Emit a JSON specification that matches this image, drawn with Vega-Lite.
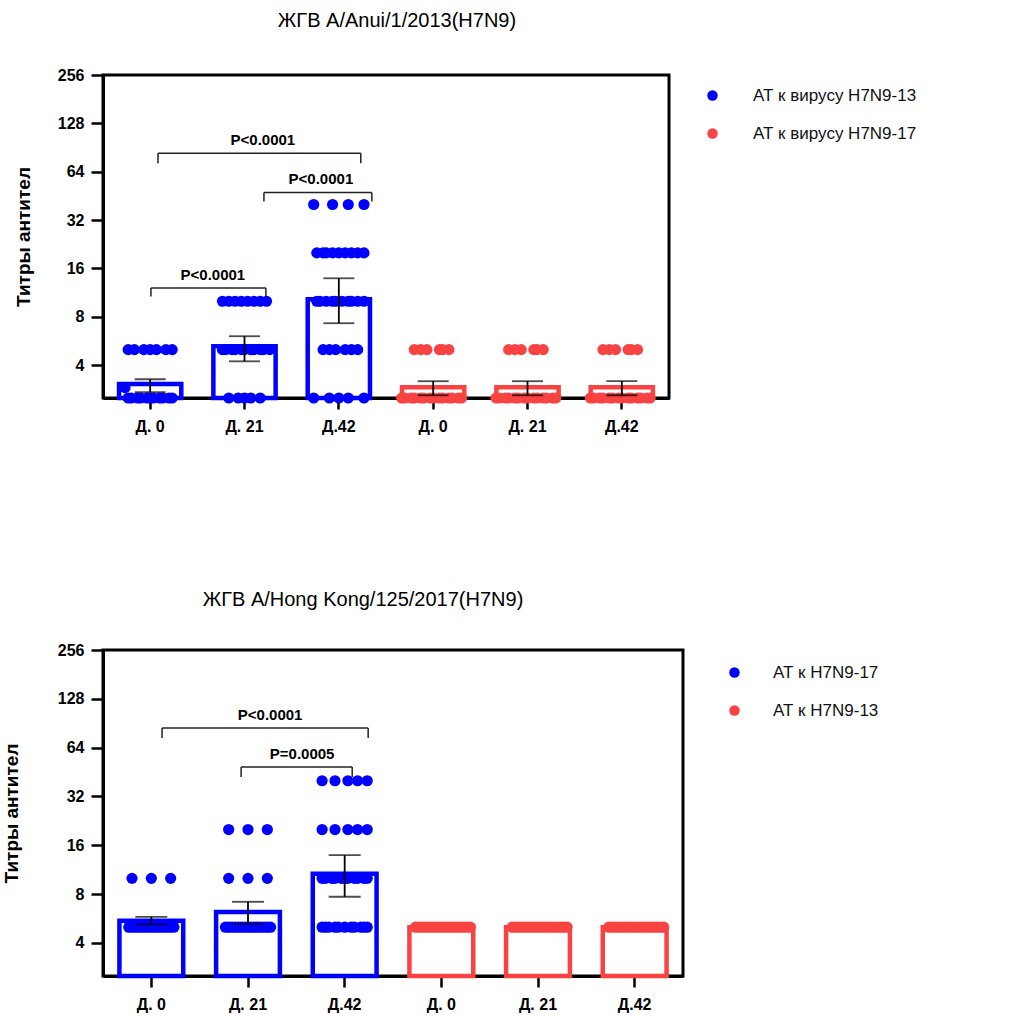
{
  "$schema": "https://vega.github.io/schema/vega-lite/v6.json",
  "padding": {"left": 0, "top": 9, "right": 0, "bottom": 0},
  "background": "white",
  "config": {
    "font": "Liberation Sans",
    "view": {"stroke": "black", "strokeWidth": 3},
    "axis": {"grid": false, "domainColor": "black", "domainWidth": 3, "tickColor": "black", "tickWidth": 2.5, "labelColor": "black", "labelFontWeight": "bold", "labelFontSize": 16, "titleColor": "black", "titleFontWeight": "bold", "titleFontSize": 19},
    "title": {"fontSize": 20, "fontWeight": "normal", "color": "black", "anchor": "middle"}
  },
  "resolve": {"scale": {"color": "independent"}, "legend": {"color": "independent"}},
  "spacing": 152,
  "datasets": {
    "bars_top": [
      {"g": "1|Д. 0", "series": "АТ к вирусу H7N9-13", "mean": 3.05},
      {"g": "2|Д. 21", "series": "АТ к вирусу H7N9-13", "mean": 5.24},
      {"g": "3|Д.42", "series": "АТ к вирусу H7N9-13", "mean": 10.3},
      {"g": "4|Д. 0", "series": "АТ к вирусу H7N9-17", "mean": 2.92},
      {"g": "5|Д. 21", "series": "АТ к вирусу H7N9-17", "mean": 2.92},
      {"g": "6|Д.42", "series": "АТ к вирусу H7N9-17", "mean": 2.92}
    ],
    "err_top": [
      {"g": "1|Д. 0", "lo": 2.72, "hi": 3.27},
      {"g": "2|Д. 21", "lo": 4.23, "hi": 6.06},
      {"g": "3|Д.42", "lo": 7.3, "hi": 13.9},
      {"g": "4|Д. 0", "lo": 2.6, "hi": 3.18},
      {"g": "5|Д. 21", "lo": 2.6, "hi": 3.18},
      {"g": "6|Д.42", "lo": 2.6, "hi": 3.18}
    ],
    "brk_top": [
      {"xa": 0.583, "xb": 2.733, "ytop": 83.4, "ydrop": 72.3, "xt": 1.695, "label": "P<0.0001"},
      {"xa": 1.706, "xb": 2.85, "ytop": 47.6, "ydrop": 41.8, "xt": 2.31, "label": "P<0.0001"},
      {"xa": 0.508, "xb": 1.727, "ytop": 12.1, "ydrop": 10.7, "xt": 1.165, "label": "P<0.0001"}
    ],
    "pts_top": [
      {"g": "1|Д. 0", "series": "АТ к вирусу H7N9-13", "titer": 5, "slot": 8},
      {"g": "1|Д. 0", "series": "АТ к вирусу H7N9-13", "titer": 5, "slot": 10},
      {"g": "1|Д. 0", "series": "АТ к вирусу H7N9-13", "titer": 5, "slot": 13},
      {"g": "1|Д. 0", "series": "АТ к вирусу H7N9-13", "titer": 5, "slot": 15},
      {"g": "1|Д. 0", "series": "АТ к вирусу H7N9-13", "titer": 5, "slot": 17},
      {"g": "1|Д. 0", "series": "АТ к вирусу H7N9-13", "titer": 5, "slot": 20},
      {"g": "1|Д. 0", "series": "АТ к вирусу H7N9-13", "titer": 5, "slot": 22},
      {"g": "1|Д. 0", "series": "АТ к вирусу H7N9-13", "titer": 2.5, "slot": 8},
      {"g": "1|Д. 0", "series": "АТ к вирусу H7N9-13", "titer": 2.5, "slot": 9},
      {"g": "1|Д. 0", "series": "АТ к вирусу H7N9-13", "titer": 2.5, "slot": 11},
      {"g": "1|Д. 0", "series": "АТ к вирусу H7N9-13", "titer": 2.5, "slot": 12},
      {"g": "1|Д. 0", "series": "АТ к вирусу H7N9-13", "titer": 2.5, "slot": 14},
      {"g": "1|Д. 0", "series": "АТ к вирусу H7N9-13", "titer": 2.5, "slot": 15},
      {"g": "1|Д. 0", "series": "АТ к вирусу H7N9-13", "titer": 2.5, "slot": 16},
      {"g": "1|Д. 0", "series": "АТ к вирусу H7N9-13", "titer": 2.5, "slot": 18},
      {"g": "1|Д. 0", "series": "АТ к вирусу H7N9-13", "titer": 2.5, "slot": 19},
      {"g": "1|Д. 0", "series": "АТ к вирусу H7N9-13", "titer": 2.5, "slot": 21},
      {"g": "1|Д. 0", "series": "АТ к вирусу H7N9-13", "titer": 2.5, "slot": 22},
      {"g": "1|Д. 0", "series": "АТ к вирусу H7N9-13", "titer": 2.9, "slot": 7},
      {"g": "2|Д. 21", "series": "АТ к вирусу H7N9-13", "titer": 10, "slot": 8},
      {"g": "2|Д. 21", "series": "АТ к вирусу H7N9-13", "titer": 10, "slot": 10},
      {"g": "2|Д. 21", "series": "АТ к вирусу H7N9-13", "titer": 10, "slot": 12},
      {"g": "2|Д. 21", "series": "АТ к вирусу H7N9-13", "titer": 10, "slot": 14},
      {"g": "2|Д. 21", "series": "АТ к вирусу H7N9-13", "titer": 10, "slot": 16},
      {"g": "2|Д. 21", "series": "АТ к вирусу H7N9-13", "titer": 10, "slot": 18},
      {"g": "2|Д. 21", "series": "АТ к вирусу H7N9-13", "titer": 10, "slot": 20},
      {"g": "2|Д. 21", "series": "АТ к вирусу H7N9-13", "titer": 10, "slot": 22},
      {"g": "2|Д. 21", "series": "АТ к вирусу H7N9-13", "titer": 5, "slot": 8},
      {"g": "2|Д. 21", "series": "АТ к вирусу H7N9-13", "titer": 5, "slot": 9},
      {"g": "2|Д. 21", "series": "АТ к вирусу H7N9-13", "titer": 5, "slot": 11},
      {"g": "2|Д. 21", "series": "АТ к вирусу H7N9-13", "titer": 5, "slot": 12},
      {"g": "2|Д. 21", "series": "АТ к вирусу H7N9-13", "titer": 5, "slot": 14},
      {"g": "2|Д. 21", "series": "АТ к вирусу H7N9-13", "titer": 5, "slot": 15},
      {"g": "2|Д. 21", "series": "АТ к вирусу H7N9-13", "titer": 5, "slot": 17},
      {"g": "2|Д. 21", "series": "АТ к вирусу H7N9-13", "titer": 5, "slot": 18},
      {"g": "2|Д. 21", "series": "АТ к вирусу H7N9-13", "titer": 5, "slot": 20},
      {"g": "2|Д. 21", "series": "АТ к вирусу H7N9-13", "titer": 5, "slot": 21},
      {"g": "2|Д. 21", "series": "АТ к вирусу H7N9-13", "titer": 5, "slot": 23},
      {"g": "2|Д. 21", "series": "АТ к вирусу H7N9-13", "titer": 2.5, "slot": 10},
      {"g": "2|Д. 21", "series": "АТ к вирусу H7N9-13", "titer": 2.5, "slot": 13},
      {"g": "2|Д. 21", "series": "АТ к вирусу H7N9-13", "titer": 2.5, "slot": 15},
      {"g": "2|Д. 21", "series": "АТ к вирусу H7N9-13", "titer": 2.5, "slot": 17},
      {"g": "2|Д. 21", "series": "АТ к вирусу H7N9-13", "titer": 2.5, "slot": 20},
      {"g": "3|Д.42", "series": "АТ к вирусу H7N9-13", "titer": 40, "slot": 7},
      {"g": "3|Д.42", "series": "АТ к вирусу H7N9-13", "titer": 40, "slot": 13},
      {"g": "3|Д.42", "series": "АТ к вирусу H7N9-13", "titer": 40, "slot": 18},
      {"g": "3|Д.42", "series": "АТ к вирусу H7N9-13", "titer": 40, "slot": 23},
      {"g": "3|Д.42", "series": "АТ к вирусу H7N9-13", "titer": 20, "slot": 8},
      {"g": "3|Д.42", "series": "АТ к вирусу H7N9-13", "titer": 20, "slot": 10},
      {"g": "3|Д.42", "series": "АТ к вирусу H7N9-13", "titer": 20, "slot": 11},
      {"g": "3|Д.42", "series": "АТ к вирусу H7N9-13", "titer": 20, "slot": 13},
      {"g": "3|Д.42", "series": "АТ к вирусу H7N9-13", "titer": 20, "slot": 15},
      {"g": "3|Д.42", "series": "АТ к вирусу H7N9-13", "titer": 20, "slot": 17},
      {"g": "3|Д.42", "series": "АТ к вирусу H7N9-13", "titer": 20, "slot": 19},
      {"g": "3|Д.42", "series": "АТ к вирусу H7N9-13", "titer": 20, "slot": 21},
      {"g": "3|Д.42", "series": "АТ к вирусу H7N9-13", "titer": 20, "slot": 23},
      {"g": "3|Д.42", "series": "АТ к вирусу H7N9-13", "titer": 10, "slot": 8},
      {"g": "3|Д.42", "series": "АТ к вирусу H7N9-13", "titer": 10, "slot": 9},
      {"g": "3|Д.42", "series": "АТ к вирусу H7N9-13", "titer": 10, "slot": 11},
      {"g": "3|Д.42", "series": "АТ к вирусу H7N9-13", "titer": 10, "slot": 13},
      {"g": "3|Д.42", "series": "АТ к вирусу H7N9-13", "titer": 10, "slot": 14},
      {"g": "3|Д.42", "series": "АТ к вирусу H7N9-13", "titer": 10, "slot": 16},
      {"g": "3|Д.42", "series": "АТ к вирусу H7N9-13", "titer": 10, "slot": 18},
      {"g": "3|Д.42", "series": "АТ к вирусу H7N9-13", "titer": 10, "slot": 19},
      {"g": "3|Д.42", "series": "АТ к вирусу H7N9-13", "titer": 10, "slot": 21},
      {"g": "3|Д.42", "series": "АТ к вирусу H7N9-13", "titer": 10, "slot": 23},
      {"g": "3|Д.42", "series": "АТ к вирусу H7N9-13", "titer": 5, "slot": 10},
      {"g": "3|Д.42", "series": "АТ к вирусу H7N9-13", "titer": 5, "slot": 12},
      {"g": "3|Д.42", "series": "АТ к вирусу H7N9-13", "titer": 5, "slot": 14},
      {"g": "3|Д.42", "series": "АТ к вирусу H7N9-13", "titer": 5, "slot": 17},
      {"g": "3|Д.42", "series": "АТ к вирусу H7N9-13", "titer": 5, "slot": 19},
      {"g": "3|Д.42", "series": "АТ к вирусу H7N9-13", "titer": 5, "slot": 21},
      {"g": "3|Д.42", "series": "АТ к вирусу H7N9-13", "titer": 2.5, "slot": 7},
      {"g": "3|Д.42", "series": "АТ к вирусу H7N9-13", "titer": 2.5, "slot": 12},
      {"g": "3|Д.42", "series": "АТ к вирусу H7N9-13", "titer": 2.5, "slot": 15},
      {"g": "3|Д.42", "series": "АТ к вирусу H7N9-13", "titer": 2.5, "slot": 18},
      {"g": "3|Д.42", "series": "АТ к вирусу H7N9-13", "titer": 2.5, "slot": 23},
      {"g": "4|Д. 0", "series": "АТ к вирусу H7N9-17", "titer": 5, "slot": 9},
      {"g": "4|Д. 0", "series": "АТ к вирусу H7N9-17", "titer": 5, "slot": 11},
      {"g": "4|Д. 0", "series": "АТ к вирусу H7N9-17", "titer": 5, "slot": 13},
      {"g": "4|Д. 0", "series": "АТ к вирусу H7N9-17", "titer": 5, "slot": 17},
      {"g": "4|Д. 0", "series": "АТ к вирусу H7N9-17", "titer": 5, "slot": 18},
      {"g": "4|Д. 0", "series": "АТ к вирусу H7N9-17", "titer": 5, "slot": 20},
      {"g": "4|Д. 0", "series": "АТ к вирусу H7N9-17", "titer": 2.5, "slot": 5},
      {"g": "4|Д. 0", "series": "АТ к вирусу H7N9-17", "titer": 2.5, "slot": 6},
      {"g": "4|Д. 0", "series": "АТ к вирусу H7N9-17", "titer": 2.5, "slot": 8},
      {"g": "4|Д. 0", "series": "АТ к вирусу H7N9-17", "titer": 2.5, "slot": 9},
      {"g": "4|Д. 0", "series": "АТ к вирусу H7N9-17", "titer": 2.5, "slot": 11},
      {"g": "4|Д. 0", "series": "АТ к вирусу H7N9-17", "titer": 2.5, "slot": 12},
      {"g": "4|Д. 0", "series": "АТ к вирусу H7N9-17", "titer": 2.5, "slot": 14},
      {"g": "4|Д. 0", "series": "АТ к вирусу H7N9-17", "titer": 2.5, "slot": 15},
      {"g": "4|Д. 0", "series": "АТ к вирусу H7N9-17", "titer": 2.5, "slot": 17},
      {"g": "4|Д. 0", "series": "АТ к вирусу H7N9-17", "titer": 2.5, "slot": 18},
      {"g": "4|Д. 0", "series": "АТ к вирусу H7N9-17", "titer": 2.5, "slot": 20},
      {"g": "4|Д. 0", "series": "АТ к вирусу H7N9-17", "titer": 2.5, "slot": 21},
      {"g": "4|Д. 0", "series": "АТ к вирусу H7N9-17", "titer": 2.5, "slot": 23},
      {"g": "4|Д. 0", "series": "АТ к вирусу H7N9-17", "titer": 2.5, "slot": 24},
      {"g": "5|Д. 21", "series": "АТ к вирусу H7N9-17", "titer": 5, "slot": 9},
      {"g": "5|Д. 21", "series": "АТ к вирусу H7N9-17", "titer": 5, "slot": 11},
      {"g": "5|Д. 21", "series": "АТ к вирусу H7N9-17", "titer": 5, "slot": 13},
      {"g": "5|Д. 21", "series": "АТ к вирусу H7N9-17", "titer": 5, "slot": 17},
      {"g": "5|Д. 21", "series": "АТ к вирусу H7N9-17", "titer": 5, "slot": 18},
      {"g": "5|Д. 21", "series": "АТ к вирусу H7N9-17", "titer": 5, "slot": 20},
      {"g": "5|Д. 21", "series": "АТ к вирусу H7N9-17", "titer": 2.5, "slot": 5},
      {"g": "5|Д. 21", "series": "АТ к вирусу H7N9-17", "titer": 2.5, "slot": 6},
      {"g": "5|Д. 21", "series": "АТ к вирусу H7N9-17", "titer": 2.5, "slot": 8},
      {"g": "5|Д. 21", "series": "АТ к вирусу H7N9-17", "titer": 2.5, "slot": 9},
      {"g": "5|Д. 21", "series": "АТ к вирусу H7N9-17", "titer": 2.5, "slot": 11},
      {"g": "5|Д. 21", "series": "АТ к вирусу H7N9-17", "titer": 2.5, "slot": 12},
      {"g": "5|Д. 21", "series": "АТ к вирусу H7N9-17", "titer": 2.5, "slot": 14},
      {"g": "5|Д. 21", "series": "АТ к вирусу H7N9-17", "titer": 2.5, "slot": 15},
      {"g": "5|Д. 21", "series": "АТ к вирусу H7N9-17", "titer": 2.5, "slot": 17},
      {"g": "5|Д. 21", "series": "АТ к вирусу H7N9-17", "titer": 2.5, "slot": 18},
      {"g": "5|Д. 21", "series": "АТ к вирусу H7N9-17", "titer": 2.5, "slot": 20},
      {"g": "5|Д. 21", "series": "АТ к вирусу H7N9-17", "titer": 2.5, "slot": 21},
      {"g": "5|Д. 21", "series": "АТ к вирусу H7N9-17", "titer": 2.5, "slot": 23},
      {"g": "5|Д. 21", "series": "АТ к вирусу H7N9-17", "titer": 2.5, "slot": 24},
      {"g": "6|Д.42", "series": "АТ к вирусу H7N9-17", "titer": 5, "slot": 9},
      {"g": "6|Д.42", "series": "АТ к вирусу H7N9-17", "titer": 5, "slot": 11},
      {"g": "6|Д.42", "series": "АТ к вирусу H7N9-17", "titer": 5, "slot": 13},
      {"g": "6|Д.42", "series": "АТ к вирусу H7N9-17", "titer": 5, "slot": 17},
      {"g": "6|Д.42", "series": "АТ к вирусу H7N9-17", "titer": 5, "slot": 18},
      {"g": "6|Д.42", "series": "АТ к вирусу H7N9-17", "titer": 5, "slot": 20},
      {"g": "6|Д.42", "series": "АТ к вирусу H7N9-17", "titer": 2.5, "slot": 5},
      {"g": "6|Д.42", "series": "АТ к вирусу H7N9-17", "titer": 2.5, "slot": 6},
      {"g": "6|Д.42", "series": "АТ к вирусу H7N9-17", "titer": 2.5, "slot": 8},
      {"g": "6|Д.42", "series": "АТ к вирусу H7N9-17", "titer": 2.5, "slot": 9},
      {"g": "6|Д.42", "series": "АТ к вирусу H7N9-17", "titer": 2.5, "slot": 11},
      {"g": "6|Д.42", "series": "АТ к вирусу H7N9-17", "titer": 2.5, "slot": 12},
      {"g": "6|Д.42", "series": "АТ к вирусу H7N9-17", "titer": 2.5, "slot": 14},
      {"g": "6|Д.42", "series": "АТ к вирусу H7N9-17", "titer": 2.5, "slot": 15},
      {"g": "6|Д.42", "series": "АТ к вирусу H7N9-17", "titer": 2.5, "slot": 17},
      {"g": "6|Д.42", "series": "АТ к вирусу H7N9-17", "titer": 2.5, "slot": 18},
      {"g": "6|Д.42", "series": "АТ к вирусу H7N9-17", "titer": 2.5, "slot": 20},
      {"g": "6|Д.42", "series": "АТ к вирусу H7N9-17", "titer": 2.5, "slot": 21},
      {"g": "6|Д.42", "series": "АТ к вирусу H7N9-17", "titer": 2.5, "slot": 23},
      {"g": "6|Д.42", "series": "АТ к вирусу H7N9-17", "titer": 2.5, "slot": 24}
    ],
    "bars_bot": [
      {"g": "1|Д. 0", "series": "АТ к H7N9-17", "mean": 5.47},
      {"g": "2|Д. 21", "series": "АТ к H7N9-17", "mean": 6.2},
      {"g": "3|Д.42", "series": "АТ к H7N9-17", "mean": 10.66},
      {"g": "4|Д. 0", "series": "АТ к H7N9-13", "mean": 5.0},
      {"g": "5|Д. 21", "series": "АТ к H7N9-13", "mean": 5.0},
      {"g": "6|Д.42", "series": "АТ к H7N9-13", "mean": 5.0}
    ],
    "err_bot": [
      {"g": "1|Д. 0", "lo": 5.2, "hi": 5.79},
      {"g": "2|Д. 21", "lo": 5.24, "hi": 7.17},
      {"g": "3|Д.42", "lo": 7.7, "hi": 13.9}
    ],
    "brk_bot": [
      {"xa": 0.611, "xb": 2.743, "ytop": 84.5, "ydrop": 73.3, "xt": 1.729, "label": "P<0.0001"},
      {"xa": 1.429, "xb": 2.578, "ytop": 48.6, "ydrop": 42.2, "xt": 2.06, "label": "P=0.0005"}
    ],
    "pts_bot": [
      {"g": "1|Д. 0", "series": "АТ к H7N9-17", "titer": 10, "slot": 9},
      {"g": "1|Д. 0", "series": "АТ к H7N9-17", "titer": 10, "slot": 15},
      {"g": "1|Д. 0", "series": "АТ к H7N9-17", "titer": 10, "slot": 21},
      {"g": "1|Д. 0", "series": "АТ к H7N9-17", "titer": 5, "slot": 8},
      {"g": "1|Д. 0", "series": "АТ к H7N9-17", "titer": 5, "slot": 9},
      {"g": "1|Д. 0", "series": "АТ к H7N9-17", "titer": 5, "slot": 10},
      {"g": "1|Д. 0", "series": "АТ к H7N9-17", "titer": 5, "slot": 11},
      {"g": "1|Д. 0", "series": "АТ к H7N9-17", "titer": 5, "slot": 12},
      {"g": "1|Д. 0", "series": "АТ к H7N9-17", "titer": 5, "slot": 13},
      {"g": "1|Д. 0", "series": "АТ к H7N9-17", "titer": 5, "slot": 14},
      {"g": "1|Д. 0", "series": "АТ к H7N9-17", "titer": 5, "slot": 15},
      {"g": "1|Д. 0", "series": "АТ к H7N9-17", "titer": 5, "slot": 16},
      {"g": "1|Д. 0", "series": "АТ к H7N9-17", "titer": 5, "slot": 17},
      {"g": "1|Д. 0", "series": "АТ к H7N9-17", "titer": 5, "slot": 18},
      {"g": "1|Д. 0", "series": "АТ к H7N9-17", "titer": 5, "slot": 19},
      {"g": "1|Д. 0", "series": "АТ к H7N9-17", "titer": 5, "slot": 20},
      {"g": "1|Д. 0", "series": "АТ к H7N9-17", "titer": 5, "slot": 21},
      {"g": "1|Д. 0", "series": "АТ к H7N9-17", "titer": 5, "slot": 22},
      {"g": "2|Д. 21", "series": "АТ к H7N9-17", "titer": 20, "slot": 9},
      {"g": "2|Д. 21", "series": "АТ к H7N9-17", "titer": 20, "slot": 15},
      {"g": "2|Д. 21", "series": "АТ к H7N9-17", "titer": 20, "slot": 21},
      {"g": "2|Д. 21", "series": "АТ к H7N9-17", "titer": 10, "slot": 9},
      {"g": "2|Д. 21", "series": "АТ к H7N9-17", "titer": 10, "slot": 15},
      {"g": "2|Д. 21", "series": "АТ к H7N9-17", "titer": 10, "slot": 21},
      {"g": "2|Д. 21", "series": "АТ к H7N9-17", "titer": 5, "slot": 8},
      {"g": "2|Д. 21", "series": "АТ к H7N9-17", "titer": 5, "slot": 9},
      {"g": "2|Д. 21", "series": "АТ к H7N9-17", "titer": 5, "slot": 10},
      {"g": "2|Д. 21", "series": "АТ к H7N9-17", "titer": 5, "slot": 11},
      {"g": "2|Д. 21", "series": "АТ к H7N9-17", "titer": 5, "slot": 12},
      {"g": "2|Д. 21", "series": "АТ к H7N9-17", "titer": 5, "slot": 13},
      {"g": "2|Д. 21", "series": "АТ к H7N9-17", "titer": 5, "slot": 14},
      {"g": "2|Д. 21", "series": "АТ к H7N9-17", "titer": 5, "slot": 15},
      {"g": "2|Д. 21", "series": "АТ к H7N9-17", "titer": 5, "slot": 16},
      {"g": "2|Д. 21", "series": "АТ к H7N9-17", "titer": 5, "slot": 17},
      {"g": "2|Д. 21", "series": "АТ к H7N9-17", "titer": 5, "slot": 18},
      {"g": "2|Д. 21", "series": "АТ к H7N9-17", "titer": 5, "slot": 19},
      {"g": "2|Д. 21", "series": "АТ к H7N9-17", "titer": 5, "slot": 20},
      {"g": "2|Д. 21", "series": "АТ к H7N9-17", "titer": 5, "slot": 21},
      {"g": "2|Д. 21", "series": "АТ к H7N9-17", "titer": 5, "slot": 22},
      {"g": "3|Д.42", "series": "АТ к H7N9-17", "titer": 40, "slot": 8},
      {"g": "3|Д.42", "series": "АТ к H7N9-17", "titer": 40, "slot": 12},
      {"g": "3|Д.42", "series": "АТ к H7N9-17", "titer": 40, "slot": 16},
      {"g": "3|Д.42", "series": "АТ к H7N9-17", "titer": 40, "slot": 19},
      {"g": "3|Д.42", "series": "АТ к H7N9-17", "titer": 40, "slot": 22},
      {"g": "3|Д.42", "series": "АТ к H7N9-17", "titer": 20, "slot": 8},
      {"g": "3|Д.42", "series": "АТ к H7N9-17", "titer": 20, "slot": 12},
      {"g": "3|Д.42", "series": "АТ к H7N9-17", "titer": 20, "slot": 16},
      {"g": "3|Д.42", "series": "АТ к H7N9-17", "titer": 20, "slot": 19},
      {"g": "3|Д.42", "series": "АТ к H7N9-17", "titer": 20, "slot": 22},
      {"g": "3|Д.42", "series": "АТ к H7N9-17", "titer": 10, "slot": 8},
      {"g": "3|Д.42", "series": "АТ к H7N9-17", "titer": 10, "slot": 9},
      {"g": "3|Д.42", "series": "АТ к H7N9-17", "titer": 10, "slot": 11},
      {"g": "3|Д.42", "series": "АТ к H7N9-17", "titer": 10, "slot": 12},
      {"g": "3|Д.42", "series": "АТ к H7N9-17", "titer": 10, "slot": 14},
      {"g": "3|Д.42", "series": "АТ к H7N9-17", "titer": 10, "slot": 15},
      {"g": "3|Д.42", "series": "АТ к H7N9-17", "titer": 10, "slot": 16},
      {"g": "3|Д.42", "series": "АТ к H7N9-17", "titer": 10, "slot": 18},
      {"g": "3|Д.42", "series": "АТ к H7N9-17", "titer": 10, "slot": 19},
      {"g": "3|Д.42", "series": "АТ к H7N9-17", "titer": 10, "slot": 21},
      {"g": "3|Д.42", "series": "АТ к H7N9-17", "titer": 10, "slot": 22},
      {"g": "3|Д.42", "series": "АТ к H7N9-17", "titer": 5, "slot": 8},
      {"g": "3|Д.42", "series": "АТ к H7N9-17", "titer": 5, "slot": 9},
      {"g": "3|Д.42", "series": "АТ к H7N9-17", "titer": 5, "slot": 10},
      {"g": "3|Д.42", "series": "АТ к H7N9-17", "titer": 5, "slot": 12},
      {"g": "3|Д.42", "series": "АТ к H7N9-17", "titer": 5, "slot": 13},
      {"g": "3|Д.42", "series": "АТ к H7N9-17", "titer": 5, "slot": 15},
      {"g": "3|Д.42", "series": "АТ к H7N9-17", "titer": 5, "slot": 17},
      {"g": "3|Д.42", "series": "АТ к H7N9-17", "titer": 5, "slot": 18},
      {"g": "3|Д.42", "series": "АТ к H7N9-17", "titer": 5, "slot": 20},
      {"g": "3|Д.42", "series": "АТ к H7N9-17", "titer": 5, "slot": 21},
      {"g": "3|Д.42", "series": "АТ к H7N9-17", "titer": 5, "slot": 22},
      {"g": "4|Д. 0", "series": "АТ к H7N9-13", "titer": 5, "slot": 7},
      {"g": "4|Д. 0", "series": "АТ к H7N9-13", "titer": 5, "slot": 8},
      {"g": "4|Д. 0", "series": "АТ к H7N9-13", "titer": 5, "slot": 9},
      {"g": "4|Д. 0", "series": "АТ к H7N9-13", "titer": 5, "slot": 10},
      {"g": "4|Д. 0", "series": "АТ к H7N9-13", "titer": 5, "slot": 11},
      {"g": "4|Д. 0", "series": "АТ к H7N9-13", "titer": 5, "slot": 12},
      {"g": "4|Д. 0", "series": "АТ к H7N9-13", "titer": 5, "slot": 13},
      {"g": "4|Д. 0", "series": "АТ к H7N9-13", "titer": 5, "slot": 14},
      {"g": "4|Д. 0", "series": "АТ к H7N9-13", "titer": 5, "slot": 15},
      {"g": "4|Д. 0", "series": "АТ к H7N9-13", "titer": 5, "slot": 16},
      {"g": "4|Д. 0", "series": "АТ к H7N9-13", "titer": 5, "slot": 17},
      {"g": "4|Д. 0", "series": "АТ к H7N9-13", "titer": 5, "slot": 18},
      {"g": "4|Д. 0", "series": "АТ к H7N9-13", "titer": 5, "slot": 19},
      {"g": "4|Д. 0", "series": "АТ к H7N9-13", "titer": 5, "slot": 20},
      {"g": "4|Д. 0", "series": "АТ к H7N9-13", "titer": 5, "slot": 21},
      {"g": "4|Д. 0", "series": "АТ к H7N9-13", "titer": 5, "slot": 22},
      {"g": "4|Д. 0", "series": "АТ к H7N9-13", "titer": 5, "slot": 23},
      {"g": "4|Д. 0", "series": "АТ к H7N9-13", "titer": 5, "slot": 24},
      {"g": "5|Д. 21", "series": "АТ к H7N9-13", "titer": 5, "slot": 7},
      {"g": "5|Д. 21", "series": "АТ к H7N9-13", "titer": 5, "slot": 8},
      {"g": "5|Д. 21", "series": "АТ к H7N9-13", "titer": 5, "slot": 9},
      {"g": "5|Д. 21", "series": "АТ к H7N9-13", "titer": 5, "slot": 10},
      {"g": "5|Д. 21", "series": "АТ к H7N9-13", "titer": 5, "slot": 11},
      {"g": "5|Д. 21", "series": "АТ к H7N9-13", "titer": 5, "slot": 12},
      {"g": "5|Д. 21", "series": "АТ к H7N9-13", "titer": 5, "slot": 13},
      {"g": "5|Д. 21", "series": "АТ к H7N9-13", "titer": 5, "slot": 14},
      {"g": "5|Д. 21", "series": "АТ к H7N9-13", "titer": 5, "slot": 15},
      {"g": "5|Д. 21", "series": "АТ к H7N9-13", "titer": 5, "slot": 16},
      {"g": "5|Д. 21", "series": "АТ к H7N9-13", "titer": 5, "slot": 17},
      {"g": "5|Д. 21", "series": "АТ к H7N9-13", "titer": 5, "slot": 18},
      {"g": "5|Д. 21", "series": "АТ к H7N9-13", "titer": 5, "slot": 19},
      {"g": "5|Д. 21", "series": "АТ к H7N9-13", "titer": 5, "slot": 20},
      {"g": "5|Д. 21", "series": "АТ к H7N9-13", "titer": 5, "slot": 21},
      {"g": "5|Д. 21", "series": "АТ к H7N9-13", "titer": 5, "slot": 22},
      {"g": "5|Д. 21", "series": "АТ к H7N9-13", "titer": 5, "slot": 23},
      {"g": "5|Д. 21", "series": "АТ к H7N9-13", "titer": 5, "slot": 24},
      {"g": "6|Д.42", "series": "АТ к H7N9-13", "titer": 5, "slot": 7},
      {"g": "6|Д.42", "series": "АТ к H7N9-13", "titer": 5, "slot": 8},
      {"g": "6|Д.42", "series": "АТ к H7N9-13", "titer": 5, "slot": 9},
      {"g": "6|Д.42", "series": "АТ к H7N9-13", "titer": 5, "slot": 10},
      {"g": "6|Д.42", "series": "АТ к H7N9-13", "titer": 5, "slot": 11},
      {"g": "6|Д.42", "series": "АТ к H7N9-13", "titer": 5, "slot": 12},
      {"g": "6|Д.42", "series": "АТ к H7N9-13", "titer": 5, "slot": 13},
      {"g": "6|Д.42", "series": "АТ к H7N9-13", "titer": 5, "slot": 14},
      {"g": "6|Д.42", "series": "АТ к H7N9-13", "titer": 5, "slot": 15},
      {"g": "6|Д.42", "series": "АТ к H7N9-13", "titer": 5, "slot": 16},
      {"g": "6|Д.42", "series": "АТ к H7N9-13", "titer": 5, "slot": 17},
      {"g": "6|Д.42", "series": "АТ к H7N9-13", "titer": 5, "slot": 18},
      {"g": "6|Д.42", "series": "АТ к H7N9-13", "titer": 5, "slot": 19},
      {"g": "6|Д.42", "series": "АТ к H7N9-13", "titer": 5, "slot": 20},
      {"g": "6|Д.42", "series": "АТ к H7N9-13", "titer": 5, "slot": 21},
      {"g": "6|Д.42", "series": "АТ к H7N9-13", "titer": 5, "slot": 22},
      {"g": "6|Д.42", "series": "АТ к H7N9-13", "titer": 5, "slot": 23},
      {"g": "6|Д.42", "series": "АТ к H7N9-13", "titer": 5, "slot": 24}
    ]
  },
  "vconcat": [
    {
      "width": 566,
      "height": 323,
      "title": {"text": "ЖГВ A/Anui/1/2013(H7N9)", "dx": 11, "offset": 36},
      "resolve": {"scale": {"x": "independent", "xOffset": "independent"}},
      "layer": [
        {
          "data": {"name": "bars_top"},
          "mark": {"type": "bar", "fill": "white", "strokeWidth": 4.5, "width": {"band": 0.66}},
          "encoding": {
            "x": {"field": "g", "type": "nominal", "sort": null,
              "scale": {"domain": ["1|Д. 0", "2|Д. 21", "3|Д.42", "4|Д. 0", "5|Д. 21", "6|Д.42"], "paddingInner": 0, "paddingOuter": 0},
              "axis": {"title": null, "labelAngle": 0, "labelExpr": "substring(datum.value, 2)", "tickSize": 11, "labelPadding": 9}},
            "y": {"field": "mean", "type": "quantitative",
              "scale": {"type": "log", "base": 2, "domain": [2.5, 256], "nice": false},
              "axis": {"title": "Титры антител", "values": [4, 8, 16, 32, 64, 128, 256], "format": "d", "tickSize": 12, "labelPadding": 7, "titlePadding": 24}},
            "y2": {"datum": 2.5},
            "stroke": {"condition": {"test": "datum.series === 'АТ к вирусу H7N9-17'", "value": "#F94343"}, "value": "#0000FF"}
          }
        },
        {
          "data": {"name": "pts_top"},
          "mark": {"type": "circle", "size": 125, "opacity": 1},
          "encoding": {
            "x": {"field": "g", "type": "nominal", "sort": null, "axis": null,
              "scale": {"domain": ["1|Д. 0", "2|Д. 21", "3|Д.42", "4|Д. 0", "5|Д. 21", "6|Д.42"], "paddingInner": 0, "paddingOuter": 0}},
            "xOffset": {"field": "slot", "type": "nominal", "scale": {"domain": [0,1,2,3,4,5,6,7,8,9,10,11,12,13,14,15,16,17,18,19,20,21,22,23,24,25,26,27,28,29,30], "paddingInner": 0, "paddingOuter": 0}},
            "y": {"field": "titer", "type": "quantitative"},
            "color": {"field": "series", "type": "nominal",
              "scale": {"domain": ["АТ к вирусу H7N9-13", "АТ к вирусу H7N9-17"], "range": ["#0000FF", "#F94343"]},
              "legend": {"title": null, "orient": "none", "legendX": 601, "legendY": 12, "symbolType": "circle", "symbolSize": 110, "labelFontSize": 17, "labelFontWeight": "normal", "labelColor": "#111", "labelOffset": 32, "rowPadding": 20, "labelLimit": 400, "padding": 0}}
          }
        },
        {
          "data": {"name": "err_top"},
          "encoding": {
            "x": {"field": "g", "type": "nominal", "sort": null, "axis": null,
              "scale": {"domain": ["1|Д. 0", "2|Д. 21", "3|Д.42", "4|Д. 0", "5|Д. 21", "6|Д.42"], "paddingInner": 0, "paddingOuter": 0}}
          },
          "layer": [
            {
              "mark": {"type": "rule", "color": "black", "strokeWidth": 1.8},
              "encoding": {"y": {"field": "lo", "type": "quantitative"}, "y2": {"field": "hi"}}
            },
            {
              "mark": {"type": "tick", "color": "black", "size": 31, "thickness": 1.8, "orient": "horizontal"},
              "encoding": {"y": {"field": "lo", "type": "quantitative"}}
            },
            {
              "mark": {"type": "tick", "color": "black", "size": 31, "thickness": 1.8, "orient": "horizontal"},
              "encoding": {"y": {"field": "hi", "type": "quantitative"}}
            }
          ]
        },
        {
          "data": {"name": "brk_top"},
          "layer": [
            {
              "mark": {"type": "rule", "color": "#222", "strokeWidth": 1.5},
              "encoding": {
                "x": {"field": "xa", "type": "quantitative", "scale": {"domain": [0, 6], "nice": false, "zero": false}, "axis": null},
                "x2": {"field": "xb"},
                "y": {"field": "ytop", "type": "quantitative"}
              }
            },
            {
              "mark": {"type": "rule", "color": "#222", "strokeWidth": 1.5},
              "encoding": {
                "x": {"field": "xa", "type": "quantitative"},
                "y": {"field": "ytop", "type": "quantitative"},
                "y2": {"field": "ydrop"}
              }
            },
            {
              "mark": {"type": "rule", "color": "#222", "strokeWidth": 1.5},
              "encoding": {
                "x": {"field": "xb", "type": "quantitative"},
                "y": {"field": "ytop", "type": "quantitative"},
                "y2": {"field": "ydrop"}
              }
            },
            {
              "mark": {"type": "text", "fontWeight": "bold", "fontSize": 15, "baseline": "bottom", "dy": -5, "color": "black"},
              "encoding": {
                "x": {"field": "xt", "type": "quantitative"},
                "y": {"field": "ytop", "type": "quantitative"},
                "text": {"field": "label"}
              }
            }
          ]
        }
      ]
    },
    {
      "width": 580,
      "height": 326,
      "title": {"text": "ЖГВ A/Hong Kong/125/2017(H7N9)", "dx": -30, "offset": 32},
      "resolve": {"scale": {"x": "independent", "xOffset": "independent"}},
      "layer": [
        {
          "data": {"name": "bars_bot"},
          "mark": {"type": "bar", "fill": "white", "strokeWidth": 4.5, "width": {"band": 0.66}},
          "encoding": {
            "x": {"field": "g", "type": "nominal", "sort": null,
              "scale": {"domain": ["1|Д. 0", "2|Д. 21", "3|Д.42", "4|Д. 0", "5|Д. 21", "6|Д.42"], "paddingInner": 0, "paddingOuter": 0},
              "axis": {"title": null, "labelAngle": 0, "labelExpr": "substring(datum.value, 2)", "tickSize": 11, "labelPadding": 9}},
            "y": {"field": "mean", "type": "quantitative",
              "scale": {"type": "log", "base": 2, "domain": [2.5, 256], "nice": false},
              "axis": {"title": "Титры антител", "values": [4, 8, 16, 32, 64, 128, 256], "format": "d", "tickSize": 12, "labelPadding": 7, "titlePadding": 36}},
            "y2": {"datum": 2.5},
            "stroke": {"condition": {"test": "datum.series === 'АТ к H7N9-13'", "value": "#F94343"}, "value": "#0000FF"}
          }
        },
        {
          "data": {"name": "pts_bot"},
          "mark": {"type": "circle", "size": 125, "opacity": 1},
          "encoding": {
            "x": {"field": "g", "type": "nominal", "sort": null, "axis": null,
              "scale": {"domain": ["1|Д. 0", "2|Д. 21", "3|Д.42", "4|Д. 0", "5|Д. 21", "6|Д.42"], "paddingInner": 0, "paddingOuter": 0}},
            "xOffset": {"field": "slot", "type": "nominal", "scale": {"domain": [0,1,2,3,4,5,6,7,8,9,10,11,12,13,14,15,16,17,18,19,20,21,22,23,24,25,26,27,28,29,30], "paddingInner": 0, "paddingOuter": 0}},
            "y": {"field": "titer", "type": "quantitative"},
            "color": {"field": "series", "type": "nominal",
              "scale": {"domain": ["АТ к H7N9-17", "АТ к H7N9-13"], "range": ["#0000FF", "#F94343"]},
              "legend": {"title": null, "orient": "none", "legendX": 623, "legendY": 14, "symbolType": "circle", "symbolSize": 110, "labelFontSize": 17, "labelFontWeight": "normal", "labelColor": "#111", "labelOffset": 30, "rowPadding": 20, "labelLimit": 400, "padding": 0}}
          }
        },
        {
          "data": {"name": "err_bot"},
          "encoding": {
            "x": {"field": "g", "type": "nominal", "sort": null, "axis": null,
              "scale": {"domain": ["1|Д. 0", "2|Д. 21", "3|Д.42", "4|Д. 0", "5|Д. 21", "6|Д.42"], "paddingInner": 0, "paddingOuter": 0}}
          },
          "layer": [
            {
              "mark": {"type": "rule", "color": "black", "strokeWidth": 1.8},
              "encoding": {"y": {"field": "lo", "type": "quantitative"}, "y2": {"field": "hi"}}
            },
            {
              "mark": {"type": "tick", "color": "black", "size": 32, "thickness": 1.8, "orient": "horizontal"},
              "encoding": {"y": {"field": "lo", "type": "quantitative"}}
            },
            {
              "mark": {"type": "tick", "color": "black", "size": 32, "thickness": 1.8, "orient": "horizontal"},
              "encoding": {"y": {"field": "hi", "type": "quantitative"}}
            }
          ]
        },
        {
          "data": {"name": "brk_bot"},
          "layer": [
            {
              "mark": {"type": "rule", "color": "#222", "strokeWidth": 1.5},
              "encoding": {
                "x": {"field": "xa", "type": "quantitative", "scale": {"domain": [0, 6], "nice": false, "zero": false}, "axis": null},
                "x2": {"field": "xb"},
                "y": {"field": "ytop", "type": "quantitative"}
              }
            },
            {
              "mark": {"type": "rule", "color": "#222", "strokeWidth": 1.5},
              "encoding": {
                "x": {"field": "xa", "type": "quantitative"},
                "y": {"field": "ytop", "type": "quantitative"},
                "y2": {"field": "ydrop"}
              }
            },
            {
              "mark": {"type": "rule", "color": "#222", "strokeWidth": 1.5},
              "encoding": {
                "x": {"field": "xb", "type": "quantitative"},
                "y": {"field": "ytop", "type": "quantitative"},
                "y2": {"field": "ydrop"}
              }
            },
            {
              "mark": {"type": "text", "fontWeight": "bold", "fontSize": 15, "baseline": "bottom", "dy": -5, "color": "black"},
              "encoding": {
                "x": {"field": "xt", "type": "quantitative"},
                "y": {"field": "ytop", "type": "quantitative"},
                "text": {"field": "label"}
              }
            }
          ]
        }
      ]
    }
  ]
}
